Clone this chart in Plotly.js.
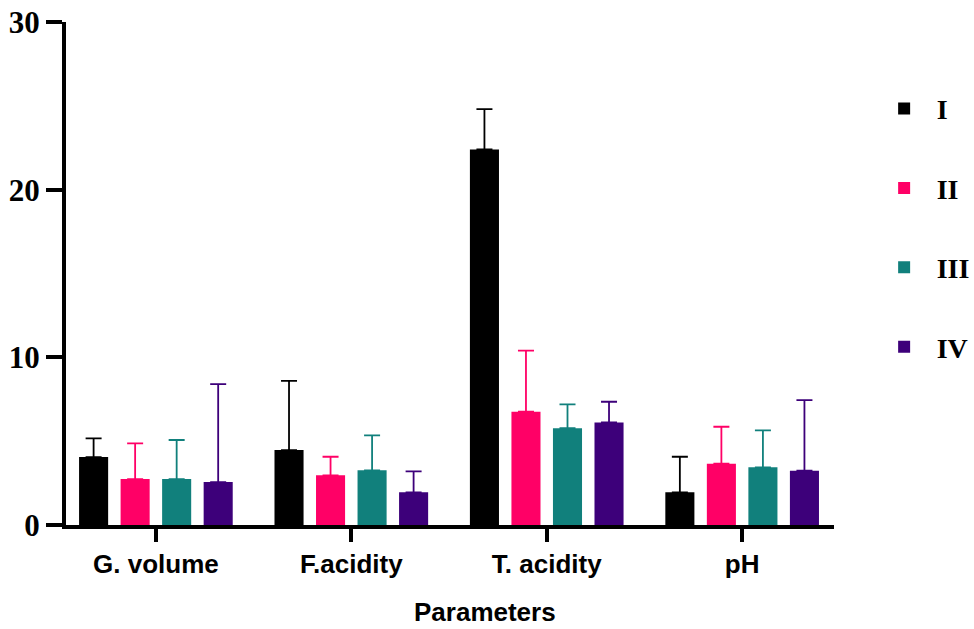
<!DOCTYPE html>
<html>
<head>
<meta charset="utf-8">
<script src="https://cdn.plot.ly/plotly-3.0.1.min.js"></script>
<style>html,body{margin:0;padding:0;background:#fff;}#chart{width:974px;height:629px;}</style>
</head>
<body>
<div id="chart"></div>
<script>
const categories = ["G. volume", "F.acidity", "T. acidity", "pH"];
const seriesNames = ["I", "II", "III", "IV"];
const valuesI   = [4.05, 4.47, 22.4, 1.95];
const valuesII  = [2.74, 2.96, 6.76, 3.66];
const valuesIII = [2.74, 3.26, 5.77, 3.44];
const valuesIV  = [2.56, 1.95, 6.12, 3.24];
const errI   = [1.12, 4.12, 2.4, 2.12];
const errII  = [2.13, 1.11, 3.64, 2.2];
const errIII = [2.33, 2.09, 1.43, 2.2];
const errIV  = [5.84, 1.25, 1.23, 4.21];
const colors = ["#000000", "#FF0066", "#11807C", "#3D007A"];
const yTicks = [0, 10, 20, 30];

const allValues = [valuesI, valuesII, valuesIII, valuesIV];
const allErr = [errI, errII, errIII, errIV];

const traces = seriesNames.map((name, i) => ({
  type: "bar",
  name: name,
  x: categories,
  y: allValues[i],
  legendgroup: "g" + i,
  marker: {color: colors[i], line: {width: 0}},
  error_y: {type: "data", array: allErr[i], symmetric: false, arrayminus: allValues[i].map(() => 0),
            visible: true, color: colors[i], thickness: 1.8, width: 8}
}));

const serif = "Times New Roman, Liberation Serif, serif";
const sans = "Arial, Liberation Sans, sans-serif";

const layout = {
  width: 974, height: 629,
  margin: {l: 66, r: 140, t: 22, b: 104, autoexpand: false},
  paper_bgcolor: "#fff", plot_bgcolor: "#fff",
  barmode: "group", bargap: 0.15, bargroupgap: 0.3,
  showlegend: true,
  legend: {x: 1.049, y: 0.877, xanchor: "left", yanchor: "top",
           font: {family: serif, size: 28, color: "#000", weight: "bold"},
           tracegroupgap: 40, itemwidth: 55},
  xaxis: {
    type: "category", range: [-0.46, 3.47],
    showline: true, linecolor: "#000", linewidth: 4,
    ticks: "outside", ticklen: 13, tickwidth: 4, tickcolor: "#000",
    tickfont: {family: sans, size: 26, color: "#000", weight: "bold"},
    showgrid: false, zeroline: false, fixedrange: true
  },
  yaxis: {
    range: [0, 30], tickvals: yTicks, ticktext: yTicks.map(String),
    showline: true, linecolor: "#000", linewidth: 4,
    ticks: "outside", ticklen: 16, tickwidth: 4, tickcolor: "#000",
    tickfont: {family: serif, size: 31, color: "#000", weight: "bold"},
    showgrid: false, zeroline: false, fixedrange: true
  },
  annotations: [{
    text: "Parameters", xref: "paper", yref: "paper", x: 0.5456, y: -0.172,
    xanchor: "center", yanchor: "middle", showarrow: false,
    font: {family: sans, size: 26, color: "#000", weight: "bold"}
  }]
};

Plotly.newPlot("chart", traces, layout, {staticPlot: true});
</script>
</body>
</html>
